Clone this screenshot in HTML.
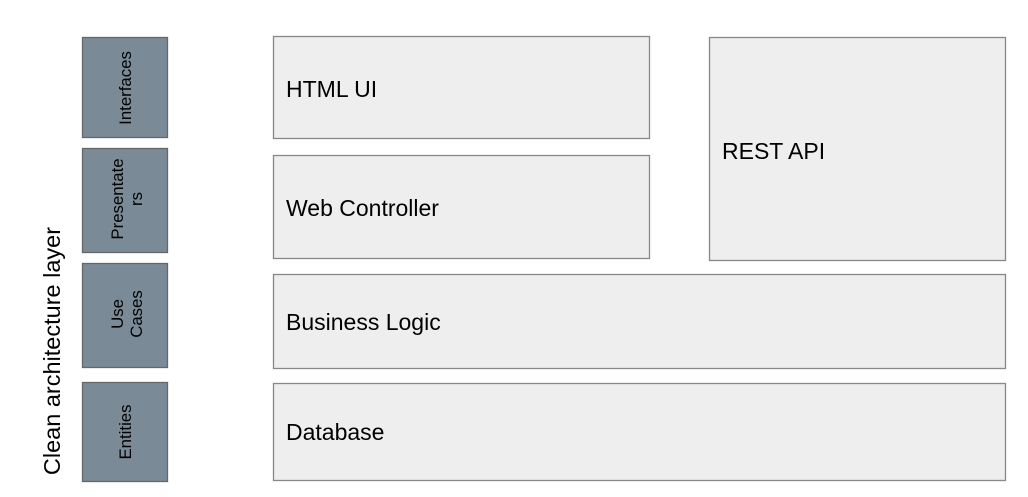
<!DOCTYPE html>
<html><head><meta charset="utf-8"><style>
html,body{margin:0;padding:0;background:#fff;}
svg{display:block;}
text{font-family:"Liberation Sans",Arial,sans-serif;fill:#000;}
</style></head><body>
<svg width="1028" height="497" viewBox="0 0 1028 497" xmlns="http://www.w3.org/2000/svg">
<g fill="#7b8a97" stroke="#666" stroke-width="1.3">
<rect x="82.5" y="37.5" width="85" height="100"/>
<rect x="82.5" y="148.5" width="85" height="104"/>
<rect x="82.5" y="263.5" width="85" height="104"/>
<rect x="82.5" y="382.5" width="85" height="99"/>
</g>
<g fill="#eeeeee" stroke="#888" stroke-width="1.3">
<rect x="273.5" y="36.5" width="376" height="102"/>
<rect x="273.5" y="155.5" width="376" height="103"/>
<rect x="709.5" y="37.5" width="296" height="223"/>
<rect x="273.5" y="274.5" width="732" height="94"/>
<rect x="273.5" y="383.5" width="732" height="97"/>
</g>
<g font-size="16.8" text-anchor="middle">
<text transform="translate(131,88) rotate(-90)">Interfaces</text>
<text transform="translate(123,199) rotate(-90)">Presentate</text>
<text transform="translate(142,199) rotate(-90)">rs</text>
<text transform="translate(123,314) rotate(-90)">Use</text>
<text transform="translate(142,314) rotate(-90)">Cases</text>
<text transform="translate(131,432) rotate(-90)">Entities</text>
</g>
<text font-size="23.5" text-anchor="middle" transform="translate(60,351) rotate(-90)">Clean architecture layer</text>
<g font-size="23">
<text x="286" y="97">HTML UI</text>
<text x="286" y="216">Web Controller</text>
<text x="722" y="159">REST API</text>
<text x="286" y="330">Business Logic</text>
<text x="286" y="440">Database</text>
</g>
</svg>
</body></html>
